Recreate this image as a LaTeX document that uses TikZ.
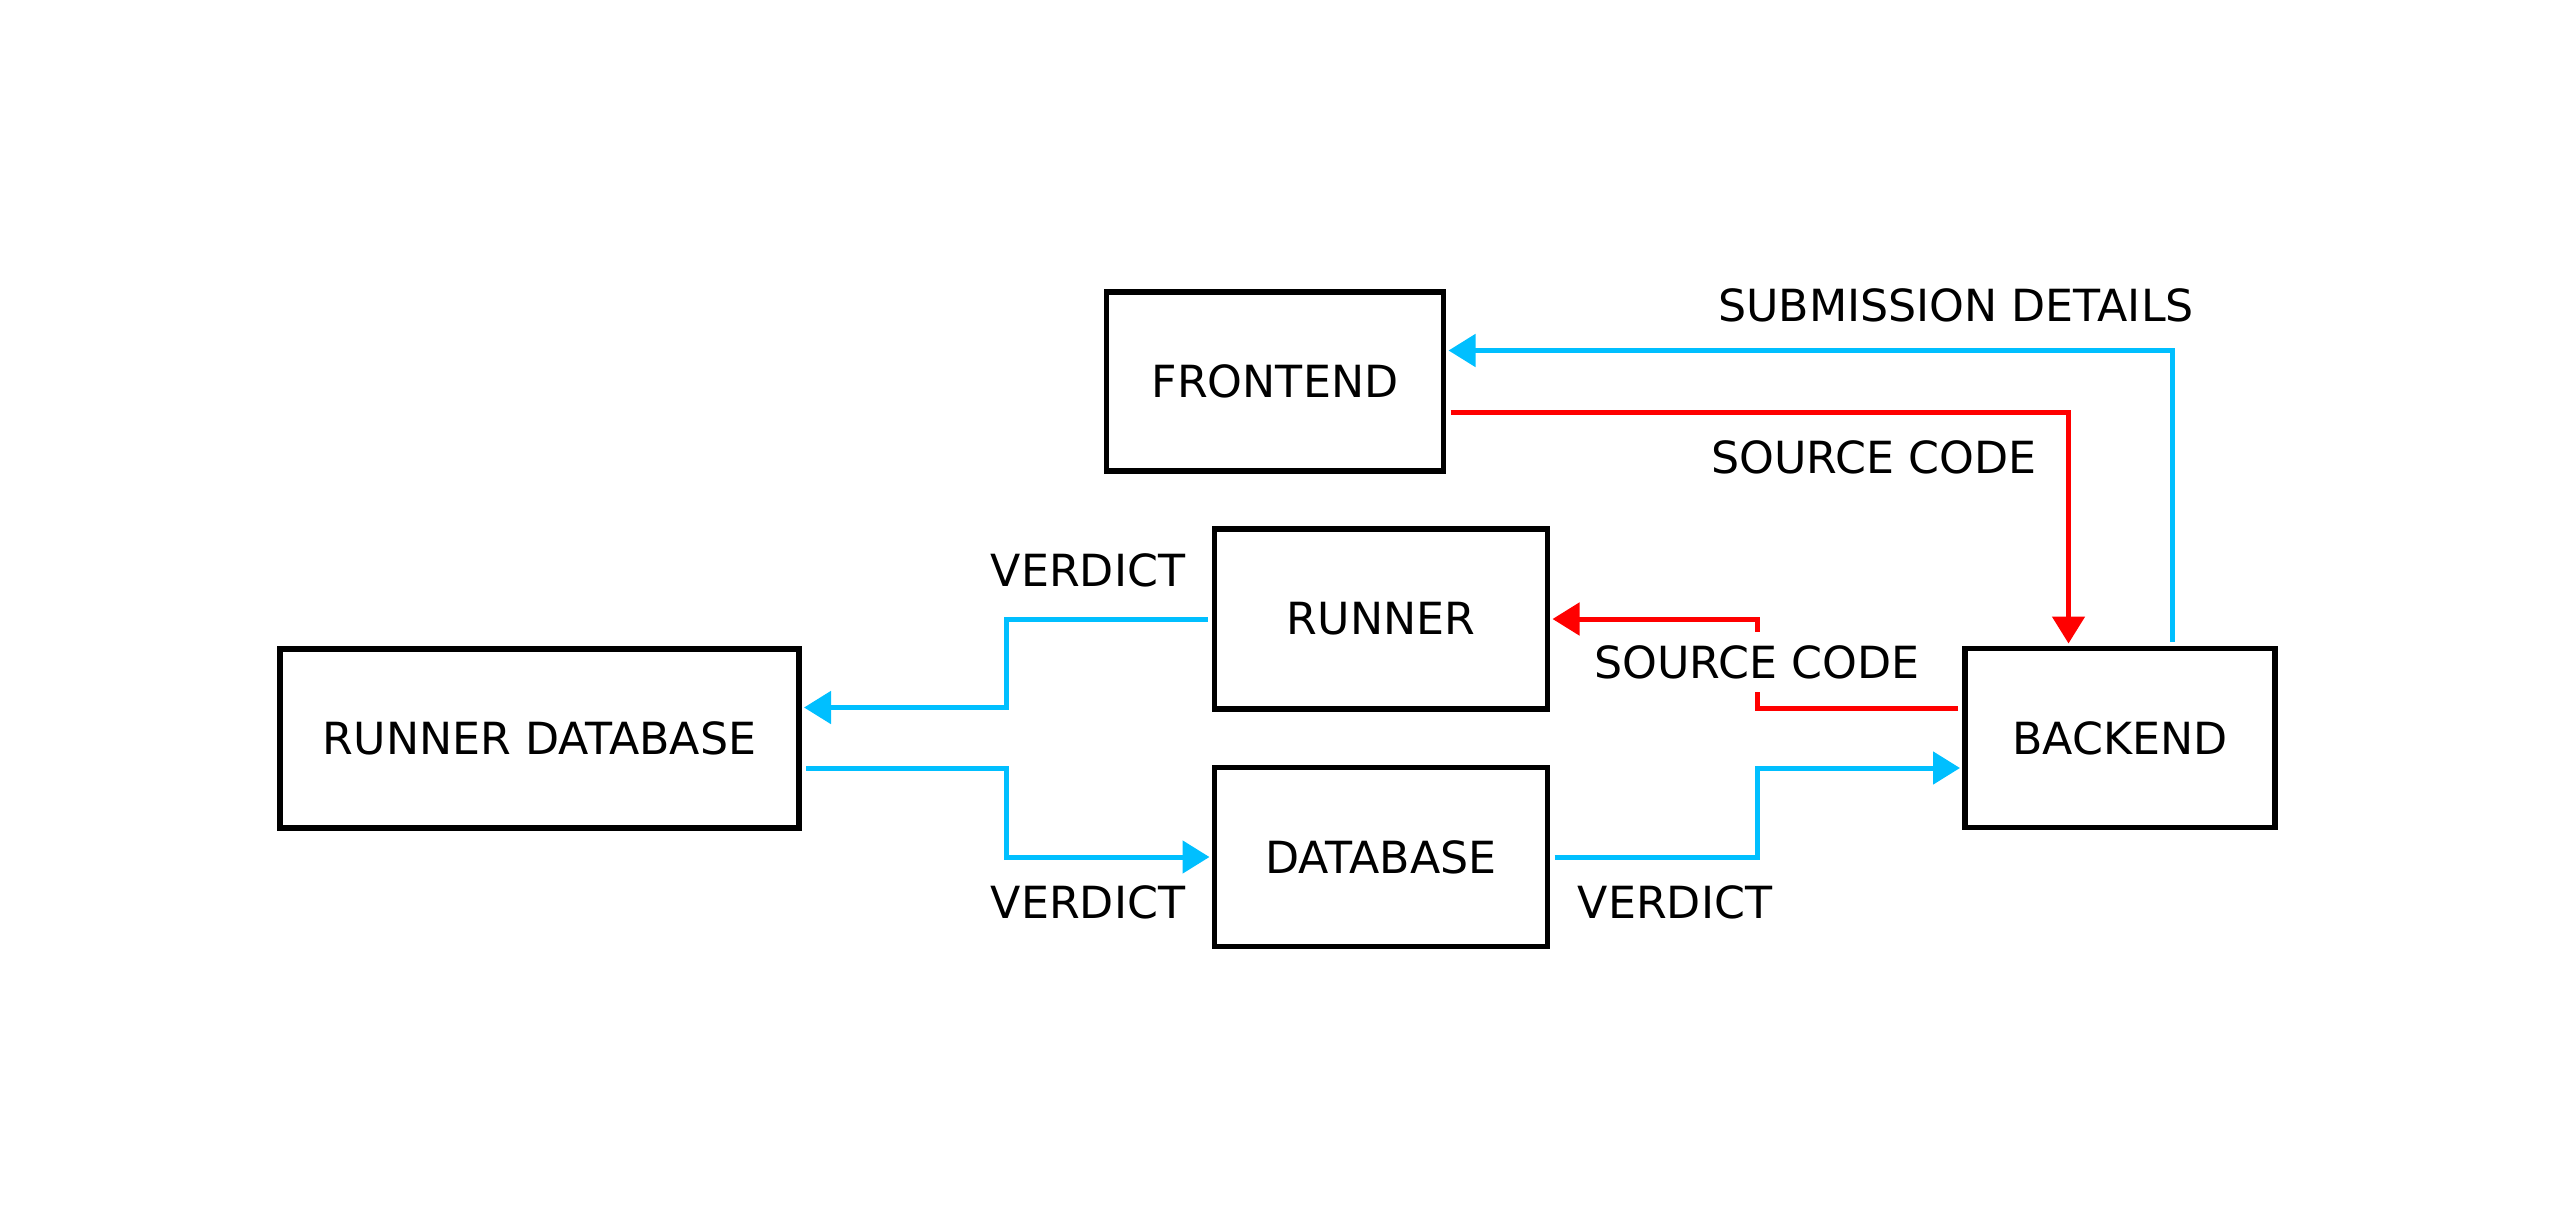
\documentclass[tikz,border=0pt]{standalone}
\usepackage{fontspec}
\setmainfont{DejaVu Sans}
\usetikzlibrary{arrows.meta,calc}
\definecolor{cblue}{HTML}{00BFFF}
\definecolor{cred}{HTML}{FF0000}
\tikzset{
  box/.style={draw=black, line width=5.5pt, inner sep=0pt, outer sep=0pt, font=\fontsize{44.3pt}{50pt}\selectfont},
  lbl/.style={inner sep=0pt, font=\fontsize{44.3pt}{50pt}\selectfont},
  conn/.style={line width=5pt, shorten <=7pt, shorten >=5pt, -{Triangle[length=27pt,width=32pt]}},
  bluearr/.style={conn, draw=cblue},
  redarr/.style={conn, draw=cred},
}
\begin{document}
\begin{tikzpicture}[x=1pt,y=-1pt]
\useasboundingbox (0,0) rectangle (2553,1228);
% boxes
\node[box, minimum width=337pt, minimum height=179pt] (frontend) at (1275,381.5) {FRONTEND};
\node[box, minimum width=333pt, minimum height=180pt] (runner) at (1381,619) {RUNNER};
\node[box, minimum width=333pt, minimum height=179pt] (database) at (1381,857) {DATABASE};
\node[box, minimum width=519pt, minimum height=179pt] (rdb) at (539.5,738.5) {RUNNER DATABASE};
\node[box, minimum width=310pt, minimum height=179pt] (backend) at (2120,738) {BACKEND};
% helper coordinates
\coordinate (jA) at (1006,0);
\coordinate (jB) at (1757,0);
\coordinate (rdbU) at ([yshift=31pt]rdb.east);
\coordinate (rdbL) at ([yshift=-30pt]rdb.east);
\coordinate (backU) at ([yshift=30pt]backend.west);
\coordinate (backL) at ([yshift=-30pt]backend.west);
% connectors
\draw[bluearr] ([xshift=52.5pt]backend.north) |- ([yshift=31pt]frontend.east);
\draw[redarr] ([yshift=-31pt]frontend.east) -| ([xshift=-51.5pt]backend.north);
\draw[redarr] (backU) -| (jB |- runner.east) -- (runner.east);
\draw[bluearr] (runner.west) -| (jA |- rdbU) -- (rdbU);
\draw[bluearr] (rdbL) -| (jA |- database.west) -- (database.west);
\draw[bluearr] (database.east) -| (jB |- backL) -- (backL);
% labels
\node[lbl] (lsub) at (1956,305) {SUBMISSION DETAILS};
\node[lbl] (lsrc1) at (1874,457) {SOURCE CODE};
\node[lbl, fill=white, inner xsep=4pt, inner ysep=13pt] (lsrc2) at (1757,662) {SOURCE CODE};
\node[lbl] (lv1) at (1088,570) {VERDICT};
\node[lbl] (lv2) at (1088,902) {VERDICT};
\node[lbl] (lv3) at (1675,902) {VERDICT};
\end{tikzpicture}
\end{document}
